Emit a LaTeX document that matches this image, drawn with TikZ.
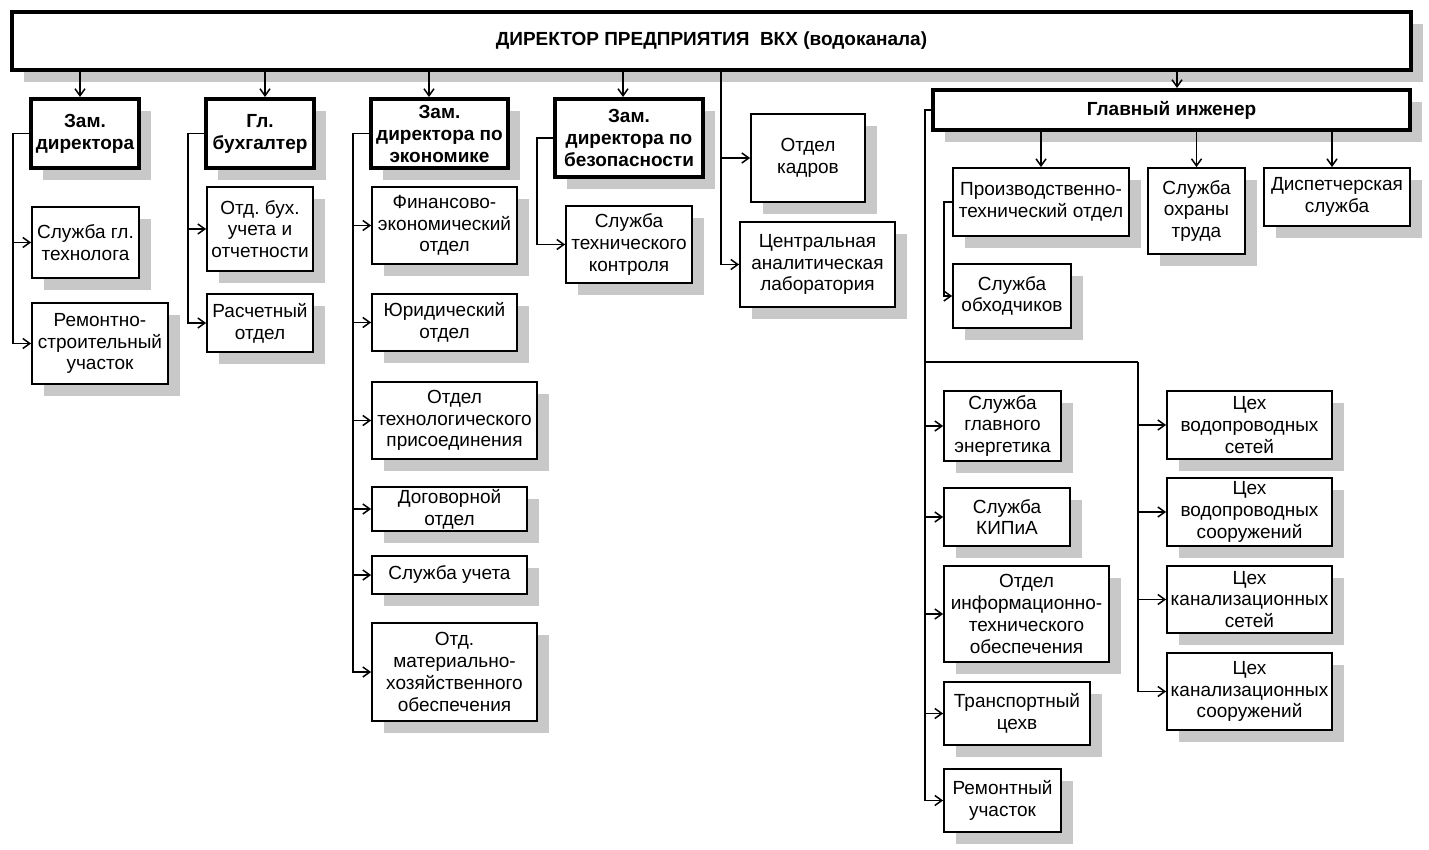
\documentclass[tikz,border=0pt]{standalone}
\usepackage{fontspec}
\setmainfont{Liberation Sans}
\usetikzlibrary{arrows.meta,shadows}
\definecolor{shd}{RGB}{200,200,200}
\frenchspacing
\newcommand\bx[7]{\node[#6, minimum width={#4-#2}, minimum height={#5-#3}] (#1) at ({(#2+#4)/2},{(#3+#5)/2}) {#7};}
\begin{document}
\begin{tikzpicture}[x=1pt,y=-1pt,
  box/.style={draw, fill=white, line width=1.8pt, align=center, inner sep=0pt,
    font=\frenchspacing\fontsize{19}{21.8}\selectfont,
    general shadow={fill=shd, shadow xshift=12pt, shadow yshift=-12pt}},
  hbox/.style={box, line width=4pt, font=\frenchspacing\bfseries\fontsize{19}{22}\selectfont},
  con/.style={line width=1.5pt},
  arr/.style={con, -{Straight Barb[length=7pt,width=10pt]}}]
\useasboundingbox (0,0) rectangle (1429,850);

% top
\bx{top}{12}{12}{1411}{70}{hbox}{ДИРЕКТОР ПРЕДПРИЯТИЯ\ \ ВКХ (водоканала)}

% level 2
\bx{zd}{31}{99}{139}{168}{hbox}{Зам.\\директора}
\bx{gb}{206}{99}{314}{168}{hbox}{Гл.\\бухгалтер}
\bx{ze}{371}{99}{508}{168}{hbox}{Зам.\\директора по\\экономике}
\bx{zb}{555}{99}{703}{177}{hbox}{Зам.\\директора по\\безопасности}
\bx{gi}{933}{90}{1410}{130}{hbox}{Главный инженер}

% column 1
\bx{st}{32}{207}{139}{278}{box}{Служба гл.\\технолога}
\bx{rs}{32}{303}{168}{384}{box}{Ремонтно-\\строительный\\участок}
% column 2
\bx{ob}{207}{187}{313}{271}{box}{Отд. бух.\\учета и\\отчетности}
\bx{ro}{207}{294}{313}{352}{box}{Расчетный\\отдел}
% column 3
\bx{fe}{372}{187}{517}{264}{box}{Финансово-\\экономический\\отдел}
\bx{yu}{372}{294}{517}{351}{box}{Юридический\\отдел}
\bx{ot}{372}{382}{537}{459}{box}{Отдел\\технологического\\присоединения}
\bx{dg}{372}{487}{527}{531}{box}{Договорной\\отдел}
\bx{su}{372}{556}{527}{594}{box}{Служба учета}
\bx{om}{372}{623}{537}{721}{box}{Отд.\\материально-\\хозяйственного\\обеспечения}
% column 4
\bx{stk}{566}{206}{692}{283}{box}{Служба\\технического\\контроля}
% column 5
\bx{ok}{751}{114}{865}{202}{box}{Отдел\\кадров}
\bx{cl}{740}{222}{895}{307}{box}{Центральная\\аналитическая\\лаборатория}
% chief engineer
\bx{pto}{953}{168}{1129}{236}{box}{Производственно-\\технический отдел}
\bx{sot}{1148}{168}{1245}{254}{box}{Служба\\охраны\\труда}
\bx{ds}{1264}{168}{1410}{226}{box}{Диспетчерская\\служба}
\bx{obh}{953}{264}{1071}{328}{box}{Служба\\обходчиков}
\bx{sge}{944}{391}{1061}{461}{box}{Служба\\главного\\энергетика}
\bx{kip}{944}{488}{1070}{546}{box}{Служба\\КИПиА}
\bx{oit}{944}{566}{1109}{662}{box}{Отдел\\информационно-\\технического\\обеспечения}
\bx{tr}{944}{682}{1090}{745}{box}{Транспортный\\цехв}
\bx{rem}{944}{769}{1061}{832}{box}{Ремонтный\\участок}
\bx{cvs}{1167}{391}{1332}{459}{box}{Цех\\водопроводных\\сетей}
\bx{cvso}{1167}{478}{1332}{546}{box}{Цех\\водопроводных\\сооружений}
\bx{cks}{1167}{566}{1332}{633}{box}{Цех\\канализационных\\сетей}
\bx{ckso}{1167}{653}{1332}{730}{box}{Цех\\канализационных\\сооружений}

% spine coordinates
\coordinate (a1) at (80,0);
\coordinate (a2) at (265,0);
\coordinate (a3) at (429,0);
\coordinate (a4) at (623,0);
\coordinate (a5) at (1177,0);
\coordinate (a6) at (1332,0);
\coordinate (s1) at (13,0);
\coordinate (s2) at (188,0);
\coordinate (s3) at (353,0);
\coordinate (s4) at (537,0);
\coordinate (s5) at (721,0);
\coordinate (s6) at (925,0);
\coordinate (s7) at (1138,0);
\coordinate (s8) at (944,0);
\coordinate (b1) at (925,362);

% from director
\draw[arr] (top.south -| a1) -- (zd.north -| a1);
\draw[arr] (top.south -| a2) -- (gb.north -| a2);
\draw[arr] (top.south -| a3) -- (ze.north -| a3);
\draw[arr] (top.south -| a4) -- (zb.north -| a4);
\draw[arr] (top.south -| a5) -- (gi.north -| a5);
\draw[arr] (top.south -| s5) |- (cl.west);
\draw[arr] (ok.west -| s5) -- (ok.west);

% deputy director
\draw[arr] (zd.west) -- (zd.west -| s1) |- (rs.west);
\draw[arr] (st.west -| s1) -- (st.west);
% chief accountant
\draw[arr] (gb.west) -- (gb.west -| s2) |- (ro.west);
\draw[arr] (ob.west -| s2) -- (ob.west);
% economics
\draw[arr] (ze.west) -- (ze.west -| s3) |- (om.west);
\draw[arr] (fe.west -| s3) -- (fe.west);
\draw[arr] (yu.west -| s3) -- (yu.west);
\draw[arr] (ot.west -| s3) -- (ot.west);
\draw[arr] (dg.west -| s3) -- (dg.west);
\draw[arr] (su.west -| s3) -- (su.west);
% security
\draw[arr] (zb.west) -- (zb.west -| s4) |- (stk.west);

% chief engineer
\draw[arr] (gi.south -| pto.north) -- (pto.north);
\draw[arr] (gi.south -| sot.north) -- (sot.north);
\draw[arr] (gi.south -| a6) -- (ds.north -| a6);
\draw[arr] (pto.west) -- (pto.west -| s8) |- (obh.west);
\draw[arr] (gi.west) -- (gi.west -| s6) |- (rem.west);
\draw[arr] (sge.west -| s6) -- (sge.west);
\draw[arr] (kip.west -| s6) -- (kip.west);
\draw[arr] (oit.west -| s6) -- (oit.west);
\draw[arr] (tr.west -| s6) -- (tr.west);
\draw[con] (b1) -- (b1 -| s7);
\draw[arr] (b1 -| s7) |- (ckso.west);
\draw[arr] (cvs.west -| s7) -- (cvs.west);
\draw[arr] (cvso.west -| s7) -- (cvso.west);
\draw[arr] (cks.west -| s7) -- (cks.west);
\end{tikzpicture}
\end{document}
